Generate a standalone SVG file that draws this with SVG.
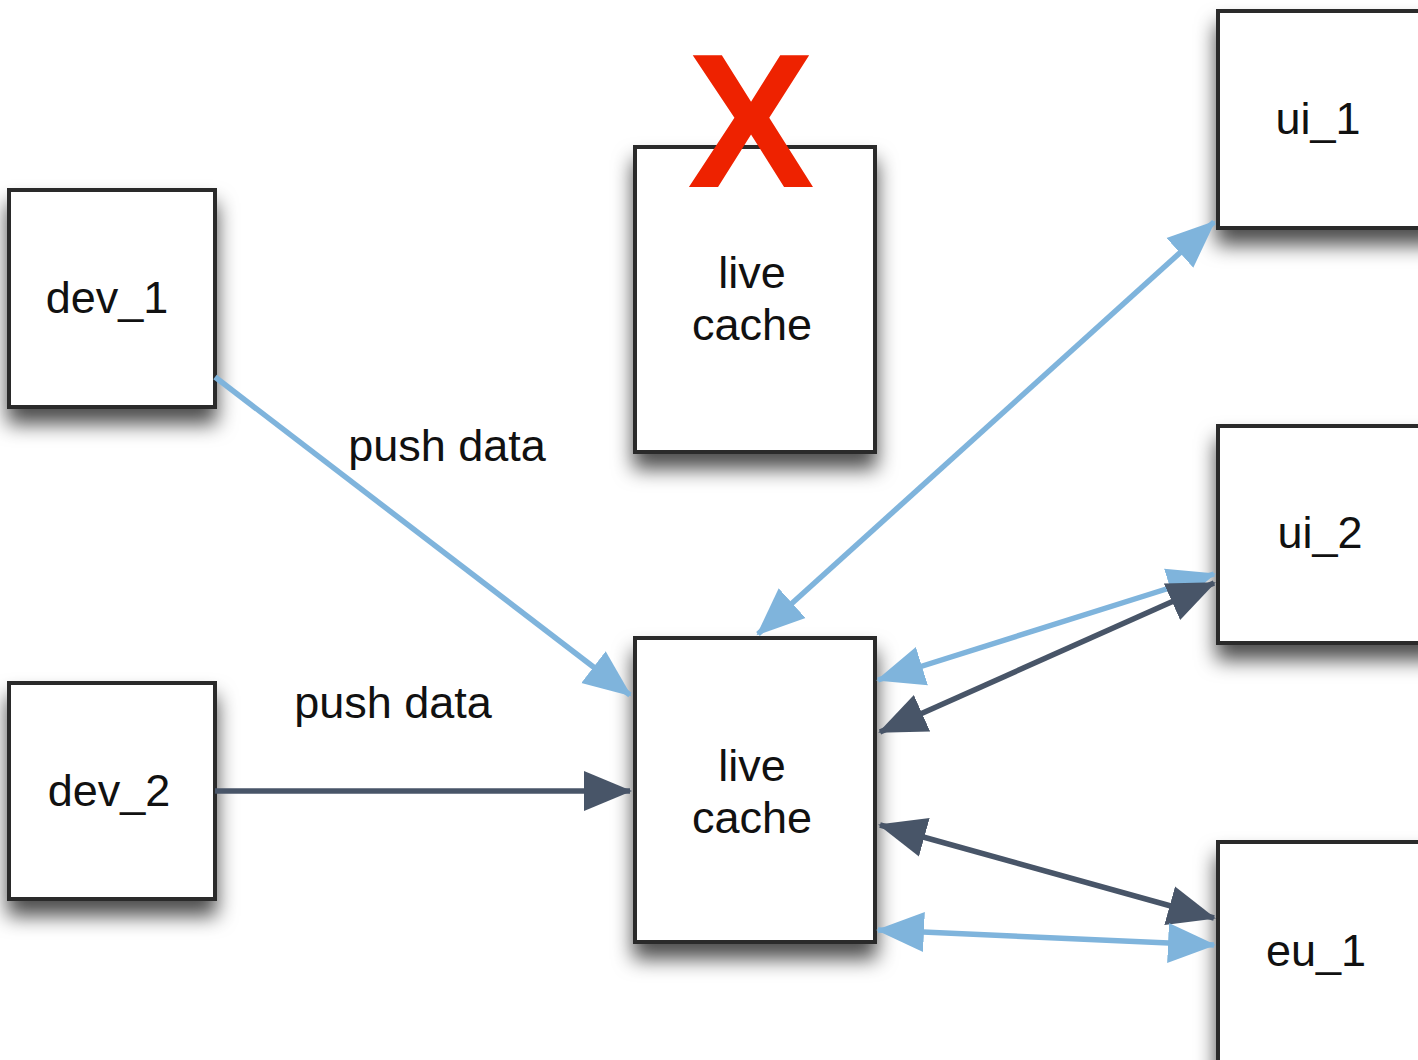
<svg xmlns="http://www.w3.org/2000/svg" width="1418" height="1060" viewBox="0 0 1418 1060">
<defs>
<filter id="sh" x="-20%" y="-20%" width="140%" height="150%">
<feDropShadow dx="0" dy="15" stdDeviation="10" flood-color="#000" flood-opacity="0.7"/>
</filter>
<marker id="hl" markerUnits="userSpaceOnUse" markerWidth="50" markerHeight="44" refX="46" refY="20" orient="auto-start-reverse" viewBox="0 0 50 40">
<path d="M0,0 L48,20 L0,40 Z" fill="#7fb4dc"/>
</marker>
<marker id="hd" markerUnits="userSpaceOnUse" markerWidth="50" markerHeight="44" refX="46" refY="20" orient="auto-start-reverse" viewBox="0 0 50 40">
<path d="M0,0 L48,20 L0,40 Z" fill="#485568"/>
</marker>
</defs>
<style>
.box{fill:#fff;stroke:#2a2a2a;stroke-width:4;filter:url(#sh)}
.t{font-family:"Liberation Sans",Arial,sans-serif;font-size:45px;fill:#111;text-anchor:middle}
.l{stroke:#7fb4dc;stroke-width:5.5;fill:none}
.d{stroke:#485568;stroke-width:5.5;fill:none}
</style>
<rect width="1418" height="1060" fill="#fff"/>
<g id="dev_1"><rect class="box" x="9" y="190" width="206" height="217"/><text class="t" x="107" y="313">dev_1</text></g>
<g id="dev_2"><rect class="box" x="9" y="683" width="206" height="216"/><text class="t" x="109" y="806">dev_2</text></g>
<g id="live_cache_down"><rect class="box" x="635" y="147" width="240" height="305"/><text class="t" x="752" y="288">live</text><text class="t" x="752" y="340">cache</text>
<text x="751" y="187" font-family="Liberation Sans,Arial,sans-serif" font-weight="bold" font-size="191" fill="#ee2200" text-anchor="middle">X</text></g>
<g id="live_cache"><rect class="box" x="635" y="638" width="240" height="304"/><text class="t" x="752" y="781">live</text><text class="t" x="752" y="833">cache</text></g>
<g id="ui_1"><rect class="box" x="1218" y="11" width="220" height="217"/><text class="t" x="1318" y="134">ui_1</text></g>
<g id="ui_2"><rect class="box" x="1218" y="426" width="220" height="217"/><text class="t" x="1320" y="548">ui_2</text></g>
<g id="eu_1"><rect class="box" x="1218" y="842" width="220" height="240"/><text class="t" x="1316" y="966">eu_1</text></g>
<g id="connectors">
<line class="l" x1="215" y1="377" x2="630" y2="695" marker-end="url(#hl)"/>
<line class="d" x1="215" y1="791" x2="630" y2="791" marker-end="url(#hd)"/>
<line class="l" x1="758" y1="634" x2="1214" y2="222" marker-start="url(#hl)" marker-end="url(#hl)"/>
<line class="l" x1="878" y1="680" x2="1214" y2="574" marker-start="url(#hl)" marker-end="url(#hl)"/>
<line class="d" x1="880" y1="732" x2="1214" y2="583" marker-start="url(#hd)" marker-end="url(#hd)"/>
<line class="d" x1="880" y1="825" x2="1214" y2="918" marker-start="url(#hd)" marker-end="url(#hd)"/>
<line class="l" x1="878" y1="930" x2="1214" y2="945" marker-start="url(#hl)" marker-end="url(#hl)"/>
<text class="t" x="447" y="461">push data</text>
<text class="t" x="393" y="718">push data</text>
</g>
</svg>
